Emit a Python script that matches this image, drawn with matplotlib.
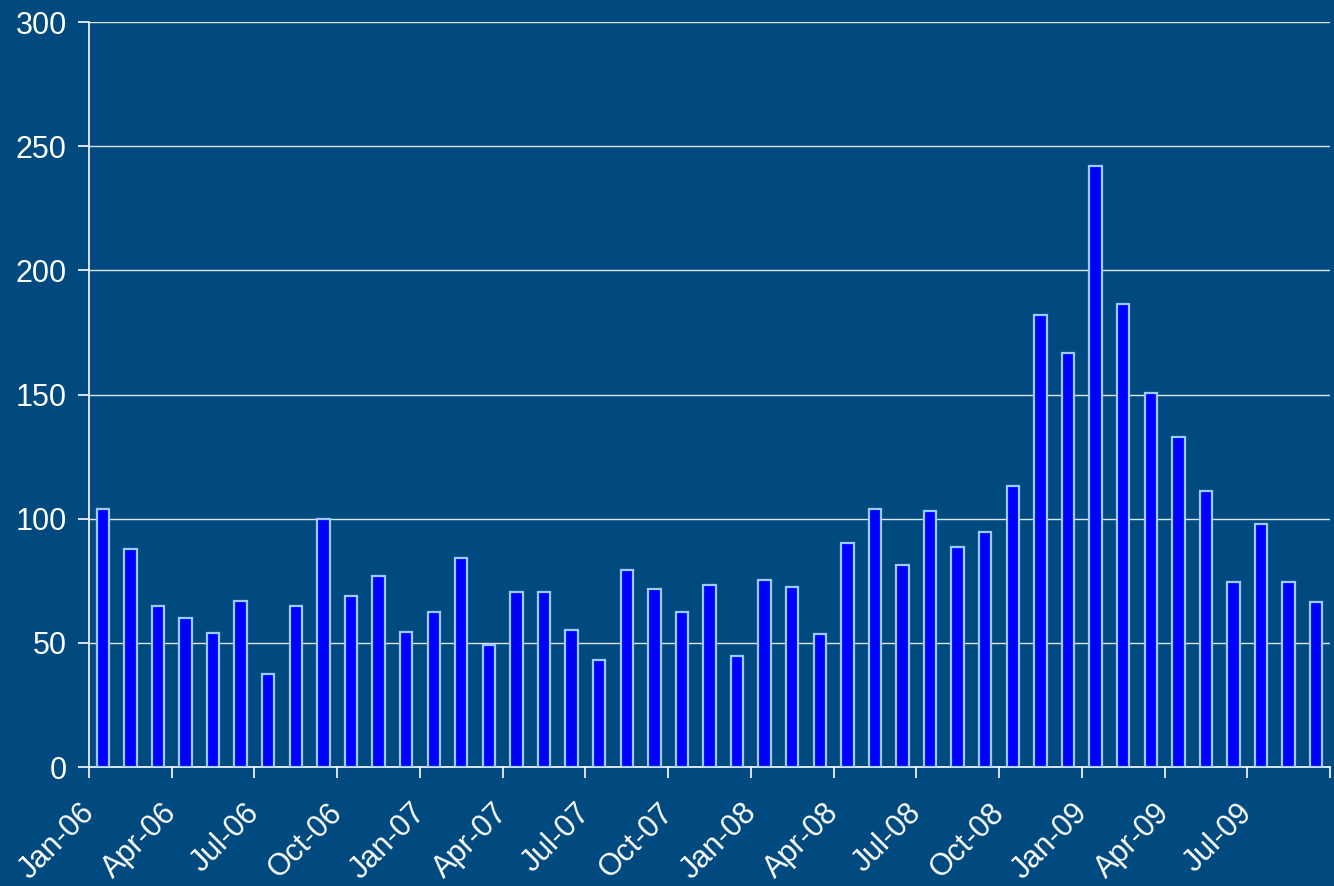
"""Monthly counts, Jan-06 to Sep-09, as a bar chart on a dark blue background."""

import matplotlib

matplotlib.use("Agg")
import matplotlib.pyplot as plt
import numpy as np

months = [
    "Jan-06", "Feb-06", "Mar-06", "Apr-06", "May-06", "Jun-06",
    "Jul-06", "Aug-06", "Sep-06", "Oct-06", "Nov-06", "Dec-06",
    "Jan-07", "Feb-07", "Mar-07", "Apr-07", "May-07", "Jun-07",
    "Jul-07", "Aug-07", "Sep-07", "Oct-07", "Nov-07", "Dec-07",
    "Jan-08", "Feb-08", "Mar-08", "Apr-08", "May-08", "Jun-08",
    "Jul-08", "Aug-08", "Sep-08", "Oct-08", "Nov-08", "Dec-08",
    "Jan-09", "Feb-09", "Mar-09", "Apr-09", "May-09", "Jun-09",
    "Jul-09", "Aug-09", "Sep-09",
]
counts = [
    104, 88, 65, 60, 54, 67, 37.5, 65, 100, 69, 77, 54.5,
    62.5, 84, 49, 70.5, 70.5, 55, 43, 79.5, 71.5, 62.5, 73.3, 44.7,
    75.3, 72.5, 53.6, 90.3, 104, 81.4, 103, 88.6, 94.7, 113,
    182, 166.7, 242, 186.5, 150.6, 132.8, 111.2, 74.5, 97.8, 74.5, 66.3,
]
y_ticks = [0, 50, 100, 150, 200, 250, 300]

BG = "#004a7f"
BAR = "#0000ff"
EDGE = "#99ccff"

plt.rcParams["font.family"] = ["Liberation Sans", "DejaVu Sans"]

fig = plt.figure(figsize=(13.34, 8.86), dpi=100, facecolor=BG)
ax = fig.add_axes([0.0667, 0.1343, 0.9303, 0.8407], facecolor=BG)

x = np.arange(len(months))
ax.bar(x, counts, width=0.45, color=BAR, edgecolor=EDGE, linewidth=1.6, zorder=3)

ax.set_xlim(-0.5, len(months) - 0.5)
ax.set_ylim(0, 300)
ax.set_yticks(y_ticks)
ax.yaxis.grid(True, color="#dde6ee", linewidth=1.0, zorder=0)

# tick marks on the quarter boundaries; rotated labels hang off the quarter's
# first category, nudged left so they end under the boundary
ax.set_xticks(np.arange(-0.5, len(months), 3))
ax.set_xticklabels([])
for i in x[::3]:
    ax.annotate(months[i], xy=(i, 0), xycoords=ax.get_xaxis_transform(),
                xytext=(-17, -22), textcoords="offset points",
                rotation=45, rotation_mode="anchor", ha="right", va="top",
                fontsize=22, color="white", annotation_clip=False)

ax.tick_params(axis="x", length=8, width=1.2, color="white")
ax.tick_params(axis="y", length=8, width=1.2, color="white", labelsize=22,
               labelcolor="white", pad=8)

for side in ("top", "right"):
    ax.spines[side].set_visible(False)
for side in ("left", "bottom"):
    ax.spines[side].set_color("white")
    ax.spines[side].set_linewidth(1.2)

fig.savefig("out.png", dpi=100, facecolor=BG)
